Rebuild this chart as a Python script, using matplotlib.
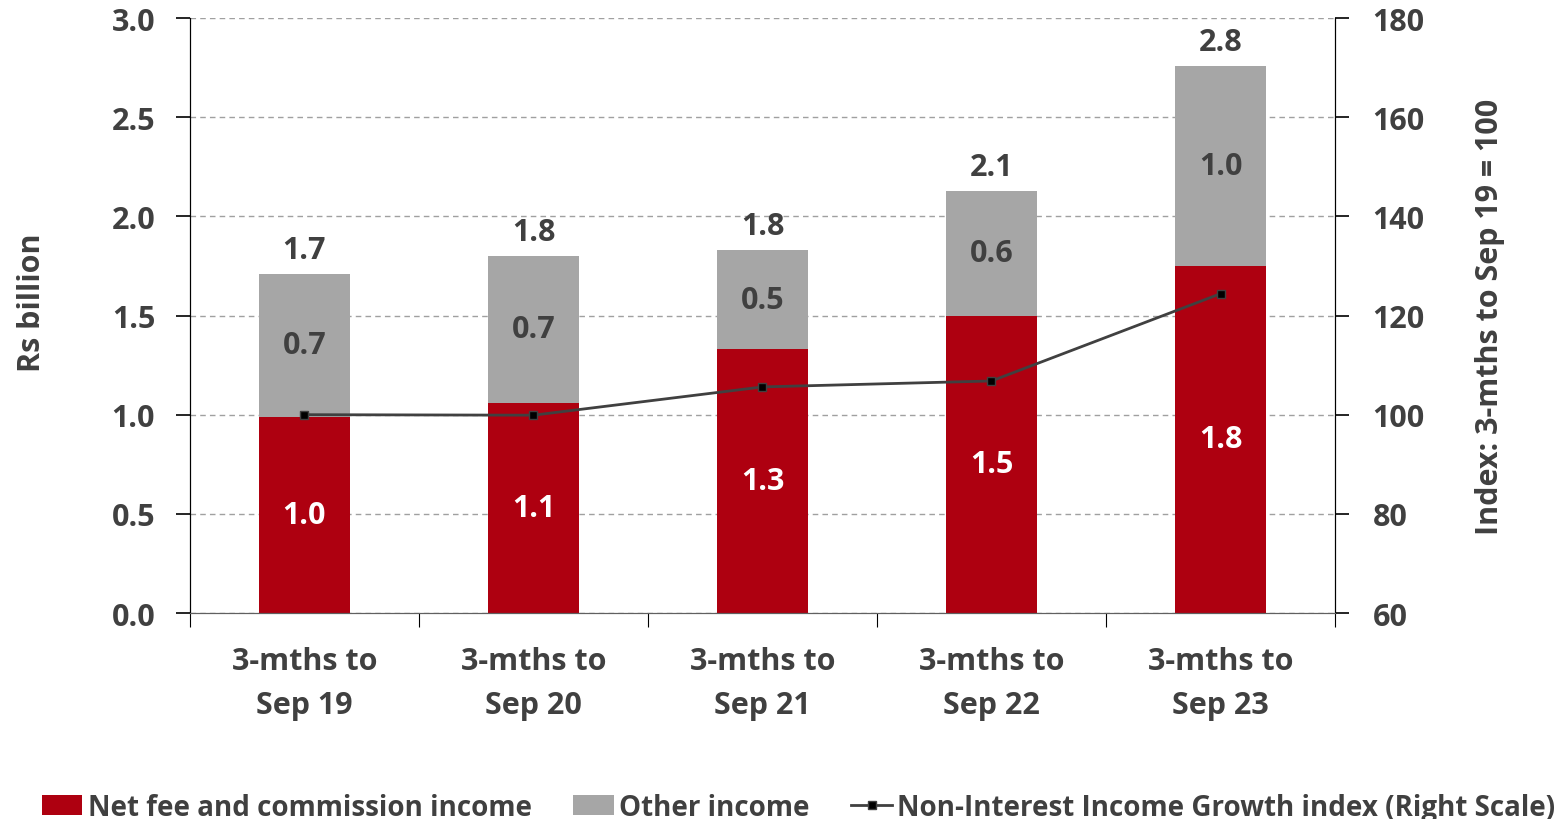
import matplotlib.pyplot as plt
import numpy as np

categories = ['3-mths to\nSep 19', '3-mths to\nSep 20', '3-mths to\nSep 21',
              '3-mths to\nSep 22', '3-mths to\nSep 23']
net_fee = [0.99, 1.06, 1.33, 1.50, 1.75]
other_income = [0.72, 0.74, 0.50, 0.63, 1.01]
growth_index = [100.0, 99.9, 105.6, 106.8, 124.4]

RED = '#AE0010'
GREY = '#A6A6A6'
TEXT = '#404040'
FS = 22

plt.rcParams['font.family'] = ['Open Sans', 'DejaVu Sans']
plt.rcParams['font.weight'] = 'bold'

fig = plt.figure(figsize=(15.66, 8.2), dpi=100)
ax = fig.add_axes([0.1213, 0.2512, 0.7312, 0.7256])
ax2 = ax.twinx()

x = np.arange(len(categories))
total = np.array(net_fee) + np.array(other_income)

ax.set_axisbelow(True)
ax.bar(x, net_fee, width=0.4, color=RED, label='Net fee and commission income', zorder=2)
ax.bar(x, other_income, width=0.4, bottom=net_fee, color=GREY, label='Other income', zorder=2)

for i in range(len(x)):
    ax.text(x[i], net_fee[i] / 2, '{:.1f}'.format(net_fee[i]), ha='center', va='center',
            color='white', fontsize=FS, fontweight='bold')
    ax.text(x[i], net_fee[i] + other_income[i] / 2, '{:.1f}'.format(other_income[i]),
            ha='center', va='center', color=TEXT, fontsize=FS, fontweight='bold')
    ax.text(x[i], total[i] + 0.045, '{:.1f}'.format(total[i]), ha='center', va='bottom',
            color=TEXT, fontsize=FS, fontweight='bold')

ax2.plot(x, growth_index, color=TEXT, lw=2.0, marker='s', ms=6,
         mfc='black', mec=TEXT, label='Non-Interest Income Growth index (Right Scale)')

ax.set_xlim(-0.5, 4.5)
ax.set_ylim(0, 3.0)
ax2.set_ylim(60, 180)
ax.set_yticks(np.arange(0, 3.01, 0.5))
ax.set_yticklabels(['{:.1f}'.format(v) for v in np.arange(0, 3.01, 0.5)])
ax2.set_yticks(np.arange(60, 181, 20))

ax.yaxis.grid(True, ls=(0, (4, 3)), color='#A0A0A0', lw=1)

# category labels sit between boundary ticks
ax.set_xticks(np.arange(-0.5, 4.6, 1))
ax.set_xticklabels([])
ax.set_xticks(x, minor=True)
ax.set_xticklabels(categories, minor=True, linespacing=1.6)
ax.tick_params(axis='x', which='minor', length=0, pad=24, labelsize=FS, labelcolor=TEXT)
ax.tick_params(axis='x', which='major', length=10, direction='out', color='black')
ax.tick_params(axis='y', length=10, width=1.2, pad=15, labelsize=FS, labelcolor=TEXT)
ax2.tick_params(axis='y', length=10, width=1.2, pad=17, labelsize=FS, labelcolor=TEXT)

for a in (ax, ax2):
    a.spines['top'].set_visible(False)
    a.spines['left'].set_color('black')
    a.spines['right'].set_color('black')
    a.spines['bottom'].set_color('#606060')

fig.text(32 / 1566, 1 - 303 / 820, 'Rs billion', rotation=90, ha='center', va='center',
         fontsize=FS, color=TEXT, fontweight='bold')
fig.text(1490 / 1566, 1 - 317 / 820, 'Index: 3-mths to Sep 19 = 100', rotation=90,
         ha='center', va='center', fontsize=FS, color=TEXT, fontweight='bold')

h1, l1 = ax.get_legend_handles_labels()
h2, l2 = ax2.get_legend_handles_labels()
fig.legend(h1 + h2, l1 + l2, loc='lower center', bbox_to_anchor=(0.51, -0.034), ncol=3,
           frameon=False, fontsize=20, labelcolor=TEXT, handlelength=1.45,
           handletextpad=0.2, columnspacing=1.5)

fig.savefig('out.png', dpi=100)
